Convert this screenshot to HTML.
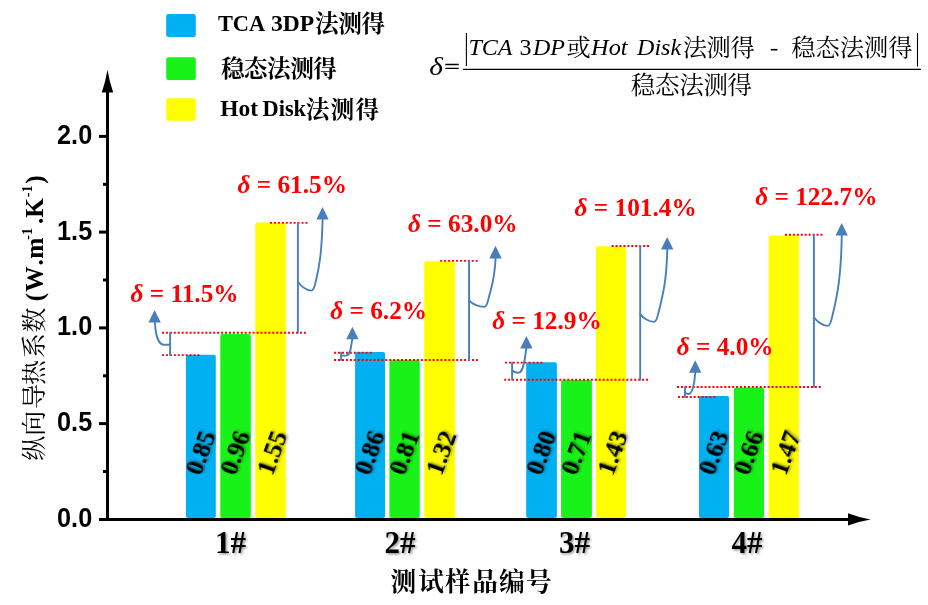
<!DOCTYPE html>
<html><head><meta charset="utf-8"><title>chart</title>
<style>
html,body{margin:0;padding:0;background:#fff;}
body{width:928px;height:605px;overflow:hidden;font-family:"Liberation Sans",sans-serif;}
svg{display:block;will-change:transform;}
text{white-space:pre;}
</style></head><body>
<svg width="928" height="605" viewBox="0 0 928 605">
<defs>
<filter id="sh" x="-20%" y="-20%" width="150%" height="150%"><feDropShadow dx="1.4" dy="1.4" stdDeviation="1.1" flood-color="#000" flood-opacity="0.42"/></filter>
</defs>
<rect width="928" height="605" fill="#fff"/>
<g stroke="#000" stroke-width="3" fill="none">
<path d="M107.5,520.9 V88"/>
<path d="M99,519.4 H850"/>
<path d="M99,423.6 H107.5"/>
<path d="M99,327.9 H107.5"/>
<path d="M99,232.1 H107.5"/>
<path d="M99,136.4 H107.5"/>
<path d="M103,471.5 H107.5"/>
<path d="M103,375.8 H107.5"/>
<path d="M103,280.0 H107.5"/>
<path d="M103,184.3 H107.5"/>
</g>
<path d="M107.5,69.8 Q109.1,80 113.2,92.5 H101.8 Q105.9,80 107.5,69.8 Z" fill="#000"/>
<path d="M870.6,519.4 Q860,517.8 848,513.1999999999999 V525.6 Q860,521.0 870.6,519.4 Z" fill="#000"/>
<text transform="translate(92.2,526.9) scale(0.894,1)" text-anchor="end" font-family="Liberation Sans" font-weight="bold" font-size="28.3">0.0</text>
<text transform="translate(92.2,431.1) scale(0.894,1)" text-anchor="end" font-family="Liberation Sans" font-weight="bold" font-size="28.3">0.5</text>
<text transform="translate(92.2,335.4) scale(0.894,1)" text-anchor="end" font-family="Liberation Sans" font-weight="bold" font-size="28.3">1.0</text>
<text transform="translate(92.2,239.6) scale(0.894,1)" text-anchor="end" font-family="Liberation Sans" font-weight="bold" font-size="28.3">1.5</text>
<text transform="translate(92.2,143.9) scale(0.894,1)" text-anchor="end" font-family="Liberation Sans" font-weight="bold" font-size="28.3">2.0</text>
<rect x="185.9" y="354.8" width="29.9" height="163.1" rx="2" fill="#00B0F0"/>
<rect x="220.3" y="334.0" width="30.5" height="183.9" rx="2" fill="#18F218"/>
<rect x="255.3" y="222.5" width="30.5" height="295.4" rx="2" fill="#FFFF00"/>
<rect x="355.1" y="352.1" width="29.9" height="165.8" rx="2" fill="#00B0F0"/>
<rect x="389.4" y="360.1" width="30.4" height="157.8" rx="2" fill="#18F218"/>
<rect x="424.2" y="261.2" width="30.8" height="256.7" rx="2" fill="#FFFF00"/>
<rect x="526.2" y="362.2" width="30.7" height="155.7" rx="2" fill="#00B0F0"/>
<rect x="561.1" y="380.0" width="30.8" height="137.9" rx="2" fill="#18F218"/>
<rect x="596.0" y="246.2" width="30.0" height="271.7" rx="2" fill="#FFFF00"/>
<rect x="699.0" y="396.0" width="30.0" height="121.9" rx="2" fill="#00B0F0"/>
<rect x="733.8" y="387.4" width="30.2" height="130.5" rx="2" fill="#18F218"/>
<rect x="768.7" y="235.4" width="30.3" height="282.5" rx="2" fill="#FFFF00"/>
<path d="M99,519.4 H850" stroke="#000" stroke-width="3"/>
<text transform="translate(200.8,476.6) rotate(-70)" font-family="Liberation Serif" font-weight="bold" font-size="25.4" filter="url(#sh)">0.85</text>
<text transform="translate(235.5,476.6) rotate(-70)" font-family="Liberation Serif" font-weight="bold" font-size="25.4" filter="url(#sh)">0.96</text>
<text transform="translate(272.4,476.6) rotate(-70)" font-family="Liberation Serif" font-weight="bold" font-size="25.4" filter="url(#sh)">1.55</text>
<text transform="translate(369.9,476.6) rotate(-70)" font-family="Liberation Serif" font-weight="bold" font-size="25.4" filter="url(#sh)">0.86</text>
<text transform="translate(404.5,476.6) rotate(-70)" font-family="Liberation Serif" font-weight="bold" font-size="25.4" filter="url(#sh)">0.81</text>
<text transform="translate(441.5,476.6) rotate(-70)" font-family="Liberation Serif" font-weight="bold" font-size="25.4" filter="url(#sh)">1.32</text>
<text transform="translate(541.4,476.6) rotate(-70)" font-family="Liberation Serif" font-weight="bold" font-size="25.4" filter="url(#sh)">0.80</text>
<text transform="translate(576.4,476.6) rotate(-70)" font-family="Liberation Serif" font-weight="bold" font-size="25.4" filter="url(#sh)">0.71</text>
<text transform="translate(612.9,476.6) rotate(-70)" font-family="Liberation Serif" font-weight="bold" font-size="25.4" filter="url(#sh)">1.43</text>
<text transform="translate(713.9,476.6) rotate(-70)" font-family="Liberation Serif" font-weight="bold" font-size="25.4" filter="url(#sh)">0.63</text>
<text transform="translate(748.8,476.6) rotate(-70)" font-family="Liberation Serif" font-weight="bold" font-size="25.4" filter="url(#sh)">0.66</text>
<text transform="translate(785.8,476.6) rotate(-70)" font-family="Liberation Serif" font-weight="bold" font-size="25.4" filter="url(#sh)">1.47</text>
<text x="230.5" y="552.8" text-anchor="middle" font-family="Liberation Serif" font-weight="bold" font-size="31" filter="url(#sh)">1#</text>
<text x="399.9" y="552.8" text-anchor="middle" font-family="Liberation Serif" font-weight="bold" font-size="31" filter="url(#sh)">2#</text>
<text x="574.4" y="552.8" text-anchor="middle" font-family="Liberation Serif" font-weight="bold" font-size="31" filter="url(#sh)">3#</text>
<text x="747.1" y="552.8" text-anchor="middle" font-family="Liberation Serif" font-weight="bold" font-size="31" filter="url(#sh)">4#</text>
<g stroke="#FF0000" stroke-width="1.9" stroke-dasharray="2 1.94" fill="none">
<path d="M270.0,222.9 H307.8"/>
<path d="M162.0,332.8 H307.8"/>
<path d="M162.0,355.1 H199.7"/>
<path d="M440.2,260.9 H477.9"/>
<path d="M334.1,360.0 H477.9"/>
<path d="M334.1,352.7 H371.6"/>
<path d="M611.6,246.0 H650.1"/>
<path d="M504.2,379.8 H650.1"/>
<path d="M505.0,362.6 H542.6"/>
<path d="M785.0,234.8 H822.8"/>
<path d="M677.0,387.0 H822.8"/>
<path d="M677.9,397.0 H715.8"/>
</g>
<g stroke="#4A7EBB" stroke-width="1.9" fill="none" stroke-linecap="round" stroke-linejoin="round">
<path d="M297.9,222.9 V332.8"/>
<path d="M297.9,281.8 C300.9,286.0 306.4,290.5 311.4,290.6 C313.6,290.6 314.9,285.6 315.9,281.0 C319.3,266.7 321.8,253.1 322.6,218.9"/>
<path d="M170.1,332.8 V355.1"/>
<path d="M170.1,344.7 H163.8 C158.6,344.7 156.7,337 155.7,331 L154.7,321.5"/>
<path d="M469.05,260.9 V360.0"/>
<path d="M469.05,300.3 C472.1,304.5 479.4,306.8 484.4,306.9 C486.6,306.9 487.9,301.9 488.9,297.3 C491.1,288.2 494.8,279.5 495.6,257.7"/>
<path d="M341.1,352.7 V360.0"/>
<path d="M341.1,355.6 H345.8 C350,355.6 350.8,349 351.4,344.5 L352.4,338.5"/>
<path d="M640.2,246.0 V379.8"/>
<path d="M640.2,314.1 C643.2,318.3 649.1,321.8 654.1,321.9 C656.3,321.9 657.6,316.9 658.6,312.3 C662.1,297.7 666.5,283.8 667.3,248.9"/>
<path d="M512.1,362.6 V379.8"/>
<path d="M512.1,370.2 C514,372.4 516.5,372.9 518.8,372.6 C522.5,372.1 523.6,365 524.8,358.8 L526.4,348"/>
<path d="M813.9,234.8 V387.0"/>
<path d="M813.9,317.3 C816.9,321.5 822.8,325.8 827.8,325.9 C830.0,325.9 831.3,320.9 832.3,316.3 C836.8,297.6 841.0,279.6 841.8,234.8"/>
<path d="M684.9,387.0 V397.0"/>
<path d="M684.9,392.2 C686.5,394 688,394.3 689.3,393.9 C692.3,393.1 693.5,386 694.3,381.8 L695.3,372"/>
</g>
<path d="M322.5,207.0 L328.7,219.6 H316.3 Z" fill="#4A7EBB"/>
<path d="M154.6,310.1 L160.8,322.6 H148.4 Z" fill="#4A7EBB"/>
<path d="M495.5,245.8 L501.7,258.4 H489.3 Z" fill="#4A7EBB"/>
<path d="M352.4,326.8 L358.6,339.3 H346.2 Z" fill="#4A7EBB"/>
<path d="M667.2,237.0 L673.4,249.6 H661.0 Z" fill="#4A7EBB"/>
<path d="M526.4,336.1 L532.6,348.6 H520.2 Z" fill="#4A7EBB"/>
<path d="M841.7,222.9 L847.9,235.5 H835.5 Z" fill="#4A7EBB"/>
<path d="M695.2,360.2 L701.4,372.7 H689.0 Z" fill="#4A7EBB"/>
<text x="237.4" y="192.6" font-family="Liberation Serif" font-weight="bold" font-size="25.3" fill="#FF0000"><tspan font-style="italic">δ</tspan> = 61.5%</text>
<text x="130.4" y="301.7" font-family="Liberation Serif" font-weight="bold" font-size="25.3" fill="#FF0000"><tspan font-style="italic">δ</tspan> = 11.5%</text>
<text x="408.0" y="232.4" font-family="Liberation Serif" font-weight="bold" font-size="25.3" fill="#FF0000"><tspan font-style="italic">δ</tspan> = 63.0%</text>
<text x="330.2" y="319.0" font-family="Liberation Serif" font-weight="bold" font-size="25.3" fill="#FF0000"><tspan font-style="italic">δ</tspan> = 6.2%</text>
<text x="574.5" y="216.3" font-family="Liberation Serif" font-weight="bold" font-size="25.3" fill="#FF0000"><tspan font-style="italic">δ</tspan> = 101.4%</text>
<text x="492.2" y="328.6" font-family="Liberation Serif" font-weight="bold" font-size="25.3" fill="#FF0000"><tspan font-style="italic">δ</tspan> = 12.9%</text>
<text x="755.2" y="205.4" font-family="Liberation Serif" font-weight="bold" font-size="25.3" fill="#FF0000"><tspan font-style="italic">δ</tspan> = 122.7%</text>
<text x="676.7" y="355.4" font-family="Liberation Serif" font-weight="bold" font-size="25.3" fill="#FF0000"><tspan font-style="italic">δ</tspan> = 4.0%</text>
<rect x="166.2" y="14" width="29.6" height="23.0" rx="2.2" fill="#00B0F0"/>
<rect x="166.2" y="57.2" width="29.6" height="22.8" rx="2.2" fill="#18F218"/>
<rect x="166.2" y="98.3" width="29.6" height="22.5" rx="2.2" fill="#FFFF00"/>
<text x="217.9" y="31.0" font-family="Liberation Serif" font-weight="bold" font-style="normal" font-size="22.4" fill="#000">TCA</text>
<text x="271.0" y="31.0" font-family="Liberation Serif" font-weight="bold" font-style="normal" font-size="22.4" fill="#000" textLength="43.2" lengthAdjust="spacingAndGlyphs">3DP</text>
<text x="314.9" y="31.5" font-family="'Liberation Serif','Noto Serif CJK SC',serif" font-weight="bold" font-size="23.6" fill="#000" textLength="70.2" lengthAdjust="spacing">法测得</text>
<text x="220.9" y="77.0" font-family="'Liberation Serif','Noto Serif CJK SC',serif" font-weight="bold" font-size="23.6" fill="#000" textLength="116" lengthAdjust="spacing">稳态法测得</text>
<text x="220.3" y="115.7" font-family="Liberation Serif" font-weight="bold" font-style="normal" font-size="22.4" fill="#000" textLength="37.8" lengthAdjust="spacingAndGlyphs">Hot</text>
<text x="262.5" y="115.7" font-family="Liberation Serif" font-weight="bold" font-style="normal" font-size="22.4" fill="#000">Disk</text>
<text x="305.7" y="117.6" font-family="'Liberation Serif','Noto Serif CJK SC',serif" font-weight="bold" font-size="23.6" fill="#000" textLength="73.4" lengthAdjust="spacing">法测得</text>
<text transform="translate(429.3,75.0) scale(1.2,1)" font-family="Liberation Serif" font-style="italic" font-size="24.5">δ</text>
<path d="M445.3,64.5 H458.7 M445.3,68.3 H458.7" stroke="#000" stroke-width="1.3"/>
<path d="M462.9,69.4 H921" stroke="#000" stroke-width="1.1"/>
<path d="M466.4,33 V66 M917.5,33 V66.5" stroke="#000" stroke-width="1.1"/>
<text x="468.4" y="55.2" font-family="Liberation Serif" font-weight="normal" font-style="italic" font-size="24" fill="#000">TCA</text>
<text x="519.4" y="55.2" font-family="Liberation Serif" font-weight="normal" font-style="normal" font-size="24" fill="#000">3</text>
<text x="532.9" y="55.2" font-family="Liberation Serif" font-weight="normal" font-style="italic" font-size="24" fill="#000">DP</text>
<text x="566.4" y="56.0" font-family="'Liberation Serif','Noto Serif CJK SC',serif" font-size="24.3" fill="#000">或</text>
<text x="591.1" y="55.2" font-family="Liberation Serif" font-weight="normal" font-style="italic" font-size="24" fill="#000" textLength="36.5" lengthAdjust="spacingAndGlyphs">Hot</text>
<text x="637.1" y="55.2" font-family="Liberation Serif" font-weight="normal" font-style="italic" font-size="24" fill="#000">Disk</text>
<text x="682.7" y="56.0" font-family="'Liberation Serif','Noto Serif CJK SC',serif" font-size="24.3" fill="#000" textLength="72.1" lengthAdjust="spacing">法测得</text>
<path d="M770.8,49.7 H777.4" stroke="#000" stroke-width="1.6"/>
<text x="791.3" y="56.0" font-family="'Liberation Serif','Noto Serif CJK SC',serif" font-size="24.3" fill="#000" textLength="121.3" lengthAdjust="spacing">稳态法测得</text>
<text x="630.8" y="94.3" font-family="'Liberation Serif','Noto Serif CJK SC',serif" font-size="24.5" fill="#000" textLength="121.3" lengthAdjust="spacing">稳态法测得</text>
<text x="403.2 431.05 457.5 485.05 511.7 538.85" y="591" text-anchor="middle" font-family="'Liberation Serif','Noto Serif CJK SC',serif" font-weight="bold" font-size="25.6" fill="#000">测试样品编号</text>
<g transform="translate(33.7,0) rotate(-90)">
<text x="-448.2 -423.3 -396.5 -372.5 -345.75 -320.1" y="8.8" text-anchor="middle" font-family="'Liberation Serif','Noto Serif CJK SC',serif" font-size="25" fill="#000">纵向导热系数</text>
</g>
<g transform="translate(43.0,300.3) rotate(-90)" font-family="Liberation Serif" font-weight="bold">
<text x="-1.0" y="0" font-size="25.3">(</text>
<text x="8.6" y="0" font-size="25.3">W</text>
<text x="34.7" y="0" font-size="25.3">.</text>
<text x="41.5" y="0" font-size="25.3">m</text>
<text x="60.6" y="-11.2" font-size="14.2">-1</text>
<text x="76.3" y="0" font-size="25.3">.K</text>
<text x="103.1" y="-11.2" font-size="14.2">-1</text>
<text x="116.6" y="0" font-size="25.3">)</text>
</g>
</svg>
</body></html>
